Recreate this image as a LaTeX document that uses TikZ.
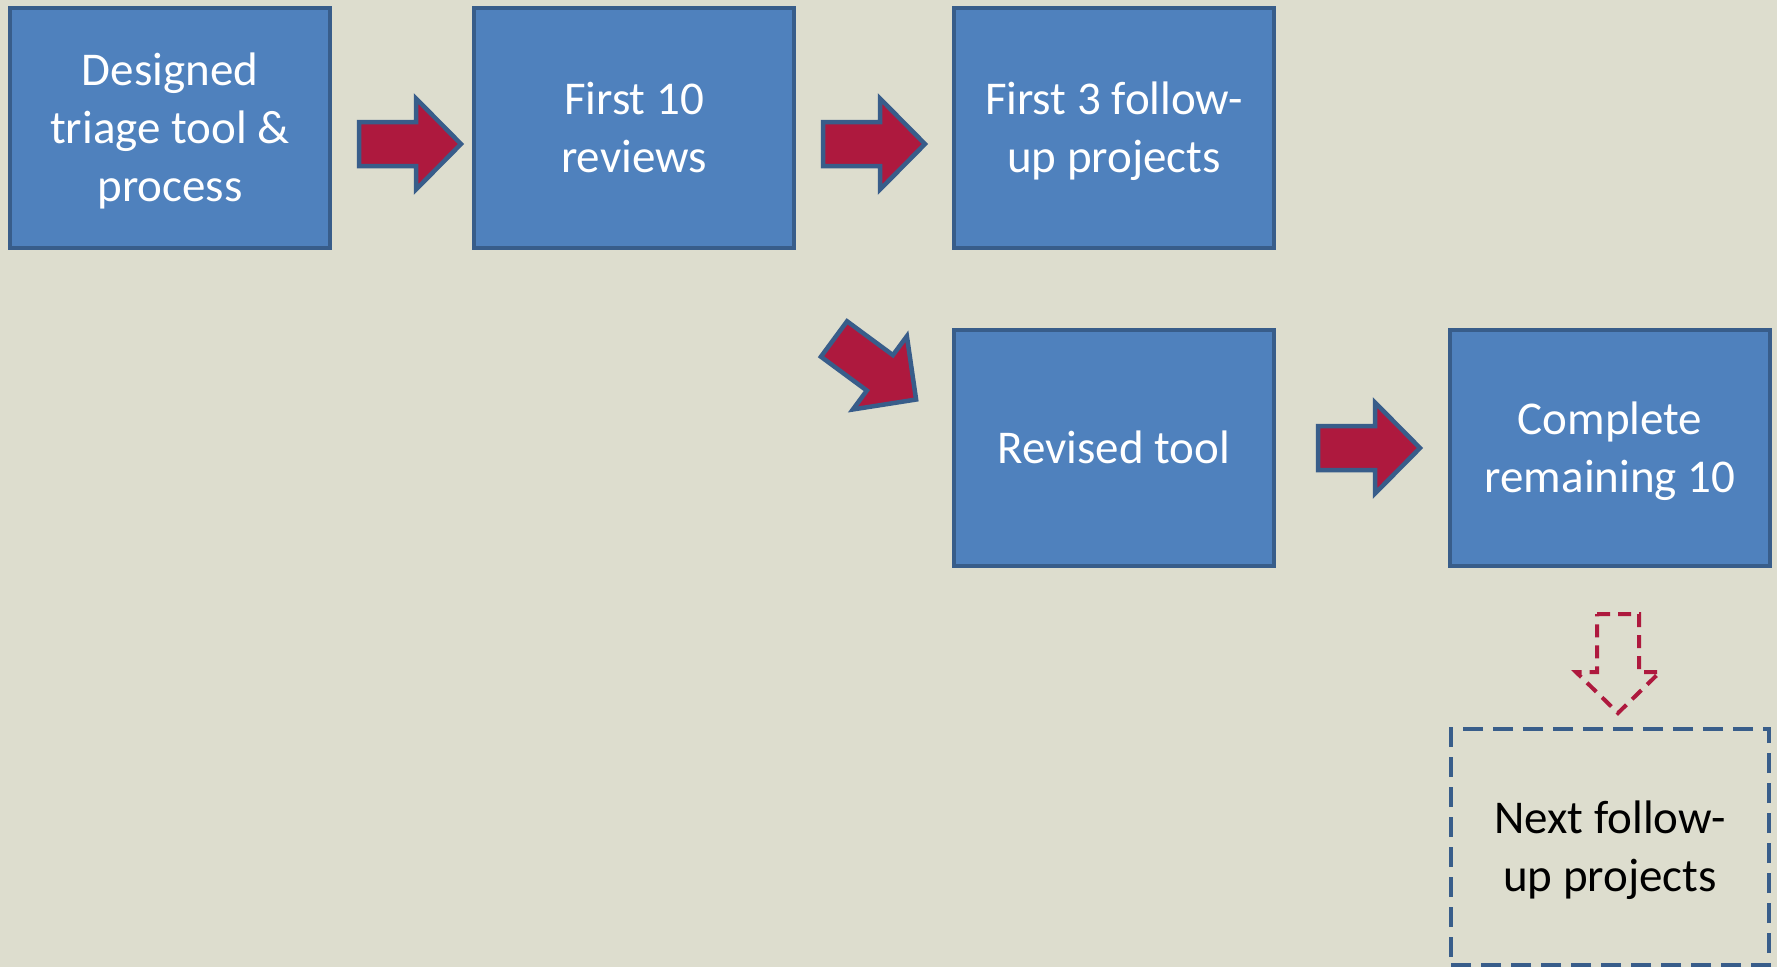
\documentclass[tikz,border=0pt]{standalone}
\usepackage{fontspec}
\setmainfont{Carlito}
\definecolor{bg}{RGB}{221,221,206}
\definecolor{boxfill}{RGB}{79,129,189}
\definecolor{boxline}{RGB}{56,93,138}
\definecolor{arrowfill}{RGB}{174,25,62}
\newcommand\linestrut{\rule[-10pt]{0pt}{50pt}}
\begin{document}
\begin{tikzpicture}[x=1pt,y=-1pt,
  box/.style={draw=boxline, fill=boxfill, line width=4pt, minimum width=320pt, minimum height=240pt, inner sep=0pt, text=white, align=center, font=\fontsize{47}{58}\selectfont},
  nextbox/.style={box, fill=none, text=black, dash pattern=on 20pt off 10pt, minimum width=318pt, minimum height=236pt},
  arrowstyle/.style={draw=boxline, fill=arrowfill, line width=4.5pt, line join=miter},
  blockarrow/.pic={\draw[arrowstyle] (0,-22) -- (57,-22) -- (57,-45.5) -- (102,0) -- (57,45.5) -- (57,22) -- (0,22) -- cycle;}]
\fill[bg] (0,0) rectangle (1777,967);
\useasboundingbox (0,0) rectangle (1777,967);

\node[box] (b1) at (170,128) {\linestrut Designed\\\linestrut triage tool \&\\\linestrut process};
\node[box] (b2) at (634,128) {\linestrut First 10\\\linestrut reviews};
\node[box] (b3) at (1114,128) {\linestrut First 3 follow-\\\linestrut up projects};
\node[box, minimum height=236pt] (b4) at (1114,448) {\linestrut Revised tool};
\node[box, minimum height=236pt] (b5) at (1610,448) {\linestrut Complete\\\linestrut remaining 10};
\node[nextbox] (b6) at (1610,847) {\linestrut Next follow-\\\linestrut up projects};

\pic at (359,144) {blockarrow};
\pic at (823,144) {blockarrow};
\pic[rotate=-36.4] at (834,339) {blockarrow};
\pic at (1318,448) {blockarrow};

\draw[draw=arrowfill, line width=4pt, dash pattern=on 13pt off 8pt]
  (1597,614) -- (1639,614) -- (1639,672) -- (1660,672) -- (1618,713) -- (1576,672) -- (1597,672) -- cycle;
\end{tikzpicture}
\end{document}
